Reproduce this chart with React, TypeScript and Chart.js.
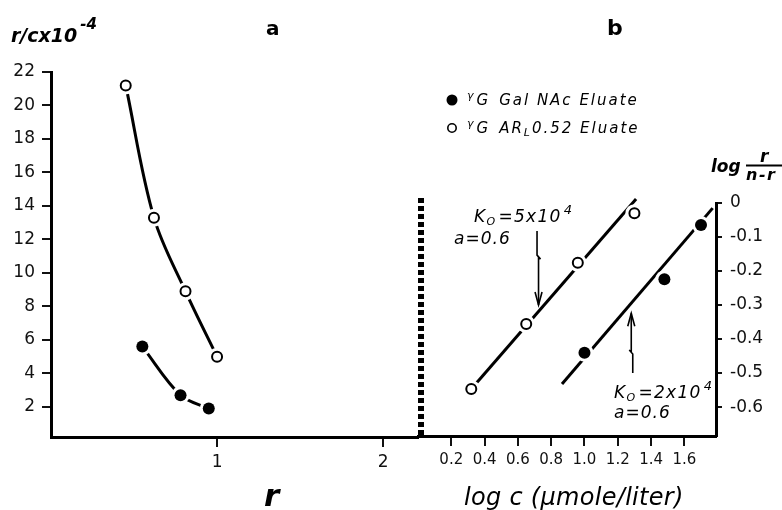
import React, { useEffect, useRef } from "react";
import { Chart, registerables } from "chart.js";
Chart.register(...registerables);

// ---------- Panel a data ----------
const leftOpenR = [0.45, 0.62, 0.81, 1.0];
const leftOpenVal = [21.2, 13.3, 8.9, 5.0];
const leftFilledR = [0.55, 0.78, 0.95];
const leftFilledVal = [5.6, 2.7, 1.9];
const leftYTicks = [2, 4, 6, 8, 10, 12, 14, 16, 18, 20, 22];
const leftXTicks = [1, 2];

// ---------- Panel b data ----------
const rightOpenLogC = [0.32, 0.65, 0.96, 1.3];
const rightOpenVal = [-0.547, -0.356, -0.176, -0.03];
const rightFilledLogC = [1.0, 1.48, 1.7];
const rightFilledVal = [-0.44, -0.224, -0.065];
const openFitLogC = [0.32, 1.31];
const openFitVal = [-0.547, 0.012];
const filledFitLogC = [0.865, 1.77];
const filledFitVal = [-0.532, -0.015];
const rightXTicks = [0.2, 0.4, 0.6, 0.8, 1.0, 1.2, 1.4, 1.6];
const rightYTicks = [0, -0.1, -0.2, -0.3, -0.4, -0.5, -0.6];

// annotation arrows (data coords of panel b): x, from y, tip y, zig y
const arrowDown = [0.715, -0.082, -0.3, -0.165];
const arrowUp = [1.29, -0.5, -0.324, -0.432];

const FONT = '"DejaVu Sans"';
const LEFT_W = 420;
const RIGHT_X = 410;
const RIGHT_W = 782 - RIGHT_X;
const H = 510;

const pts = (xs: number[], ys: number[]) => xs.map((x, i) => ({ x, y: ys[i] }));

type Part = { t: string; size: number; dy?: number; bold?: boolean; italic?: boolean; gap?: number };
function rich(ctx: CanvasRenderingContext2D, x: number, y: number, parts: Part[], spacing = 0) {
  let cx = x;
  for (const p of parts) {
    const it = p.italic === false ? "" : "italic ";
    ctx.font = `${it}${p.bold ? "bold " : ""}${p.size}px ${FONT}`;
    (ctx as any).letterSpacing = spacing + "px";
    ctx.fillText(p.t, cx, y + (p.dy || 0));
    cx += ctx.measureText(p.t).width + (p.gap || 0);
  }
  (ctx as any).letterSpacing = "0px";
}

function markerSets(openPts: any[], filledPts: any[]) {
  return [
    { data: openPts, pointRadius: 5, pointBackgroundColor: "#fff", pointBorderColor: "#000", pointBorderWidth: 2, showLine: false, order: 0, clip: false as any },
    { data: filledPts, pointRadius: 6, pointBackgroundColor: "#000", pointBorderColor: "#000", pointBorderWidth: 0, showLine: false, order: 0, clip: false as any },
    { data: openPts, pointRadius: 9, pointBackgroundColor: "#fff", pointBorderWidth: 0, showLine: false, order: 1, clip: false as any },
    { data: filledPts, pointRadius: 9, pointBackgroundColor: "#fff", pointBorderWidth: 0, showLine: false, order: 1, clip: false as any },
  ];
}

function lineSet(data: any[], smooth: boolean) {
  return {
    data,
    showLine: true,
    pointRadius: 0,
    borderColor: "#000",
    borderWidth: 3,
    tension: smooth ? 0.35 : 0,
    order: 2,
    clip: false as any,
  };
}

const leftTextPlugin = {
  id: "leftText",
  afterDraw(chart: any) {
    const ctx: CanvasRenderingContext2D = chart.ctx;
    ctx.save();
    ctx.fillStyle = "#000";
    ctx.textBaseline = "alphabetic";
    rich(ctx, 11, 42, [
      { t: "r/cx10", size: 19, bold: true, gap: 3 },
      { t: "-4", size: 15, bold: true, dy: -13 },
    ]);
    rich(ctx, 266, 35, [{ t: "a", size: 20, bold: true, italic: false }]);
    rich(ctx, 264, 506, [{ t: "r", size: 31, bold: true }]);
    ctx.restore();
  },
};

function drawArrow(ctx: CanvasRenderingContext2D, xs: any, ys: any, a: number[]) {
  const x = xs.getPixelForValue(a[0]);
  const y0 = ys.getPixelForValue(a[1]);
  const yt = ys.getPixelForValue(a[2]);
  const zy = ys.getPixelForValue(a[3]);
  const dir = yt > y0 ? 1 : -1; // 1 = pointing down
  ctx.beginPath();
  ctx.moveTo(x, y0);
  ctx.lineTo(x, zy - 4 * dir);
  ctx.lineTo(x + 3.5 * dir, zy);
  ctx.lineTo(x + 1.5 * dir, zy - 2 * dir);
  ctx.lineTo(x + 1.5 * dir, yt);
  ctx.stroke();
  const tx = x + 1.5 * dir;
  ctx.beginPath();
  ctx.moveTo(tx - 3.5, yt - 13 * dir);
  ctx.lineTo(tx, yt);
  ctx.lineTo(tx + 3.5, yt - 13 * dir);
  ctx.stroke();
}

const rightTextPlugin = {
  id: "rightText",
  afterDraw(chart: any) {
    const ctx: CanvasRenderingContext2D = chart.ctx;
    const ox = -RIGHT_X;
    const area = chart.chartArea;
    ctx.save();
    ctx.fillStyle = "#000";
    ctx.strokeStyle = "#000";
    ctx.textBaseline = "alphabetic";

    // dashed panel separator
    ctx.save();
    ctx.lineWidth = 6;
    ctx.setLineDash([5, 3]);
    ctx.beginPath();
    ctx.moveTo(area.left + 3, area.top - 5);
    ctx.lineTo(area.left + 3, area.bottom);
    ctx.stroke();
    ctx.restore();

    // panel letter
    rich(ctx, 607 + ox, 35, [{ t: "b", size: 22, bold: true, italic: false }]);

    // legend
    ctx.beginPath();
    ctx.arc(452 + ox, 100, 5.5, 0, Math.PI * 2);
    ctx.fill();
    ctx.beginPath();
    ctx.lineWidth = 1.6;
    ctx.arc(452 + ox, 128, 4.2, 0, Math.PI * 2);
    ctx.stroke();
    rich(ctx, 467 + ox, 105, [
      { t: "γ", size: 11, dy: -6, gap: 1 },
      { t: "G", size: 15, gap: 9 },
      { t: "Gal NAc Eluate", size: 15 },
    ], 2);
    rich(ctx, 467 + ox, 133, [
      { t: "γ", size: 11, dy: -6, gap: 1 },
      { t: "G", size: 15, gap: 9 },
      { t: "AR", size: 15 },
      { t: "L", size: 11, dy: 3 },
      { t: "0.52 Eluate", size: 15 },
    ], 2);

    // right axis title: log r/(n-r)
    rich(ctx, 711 + ox, 172, [{ t: "log", size: 17, bold: true }]);
    rich(ctx, 760 + ox, 162, [{ t: "r", size: 17, bold: true }]);
    ctx.lineWidth = 2;
    ctx.beginPath();
    ctx.moveTo(746 + ox, 165.5);
    ctx.lineTo(782 + ox, 165.5);
    ctx.stroke();
    rich(ctx, 746 + ox, 180, [{ t: "n-r", size: 16, bold: true }], 1.5);

    // annotations
    rich(ctx, 474 + ox, 222, [
      { t: "K", size: 17 },
      { t: "O", size: 11, dy: 3, gap: 2 },
      { t: "=5x10", size: 17, gap: 2 },
      { t: "4", size: 13, dy: -8 },
    ], 1.3);
    rich(ctx, 454 + ox, 244, [{ t: "a=0.6", size: 17 }], 1);
    rich(ctx, 614 + ox, 398, [
      { t: "K", size: 17 },
      { t: "O", size: 11, dy: 3, gap: 2 },
      { t: "=2x10", size: 17, gap: 2 },
      { t: "4", size: 13, dy: -8 },
    ], 1.3);
    rich(ctx, 614 + ox, 418, [{ t: "a=0.6", size: 17 }], 1);

    // arrows
    ctx.lineWidth = 1.6;
    drawArrow(ctx, chart.scales.x, chart.scales.y, arrowDown);
    drawArrow(ctx, chart.scales.x, chart.scales.y, arrowUp);

    // x-axis title
    rich(ctx, 464 + ox, 505, [{ t: "log c (μmole/liter)", size: 24 }], 0.3);
    ctx.restore();
  },
};

const axisCommon = {
  grid: { display: true, drawOnChartArea: false, color: "#111", lineWidth: 2 },
  border: { display: true, color: "#000", width: 3 },
};

const noPadX = (s: any, h: number) => { s.height = h; s.paddingLeft = 0; s.paddingRight = 0; s.paddingTop = 0; s.paddingBottom = 0; };
const noPadY = (s: any, w: number) => { s.width = w; s.paddingLeft = 0; s.paddingRight = 0; s.paddingTop = 0; s.paddingBottom = 0; };

export default function App() {
  const leftRef = useRef<HTMLCanvasElement>(null);
  const rightRef = useRef<HTMLCanvasElement>(null);

  useEffect(() => {
    const leftChart = new Chart(leftRef.current as HTMLCanvasElement, {
      type: "scatter",
      data: {
        datasets: [
          ...markerSets(pts(leftOpenR, leftOpenVal), pts(leftFilledR, leftFilledVal)),
          lineSet(pts(leftOpenR, leftOpenVal), true),
          lineSet(pts(leftFilledR, leftFilledVal), true),
        ] as any,
      },
      options: {
        responsive: false,
        animation: false,
        devicePixelRatio: 1,
        events: [],
        layout: { autoPadding: false, padding: { top: 72, left: 0, right: 2, bottom: 0 } },
        plugins: { legend: { display: false }, tooltip: { enabled: false } },
        scales: {
          x: {
            type: "linear",
            min: 0,
            max: 2.21,
            ...axisCommon,
            grid: { ...axisCommon.grid, tickLength: 10 },
            ticks: { color: "#111", font: { family: FONT, size: 17 }, padding: 5, autoSkip: false, maxRotation: 0, callback: (v: any) => String(v) },
            afterBuildTicks: (s: any) => { s.ticks = leftXTicks.map((value) => ({ value })); },
            afterFit: (s: any) => noPadX(s, H - 437),
          },
          y: {
            type: "linear",
            min: 0.2,
            max: 22,
            ...axisCommon,
            grid: { ...axisCommon.grid, tickLength: 9 },
            ticks: { color: "#111", font: { family: FONT, size: 17 }, padding: 7, autoSkip: false, callback: (v: any) => String(v) },
            afterBuildTicks: (s: any) => { s.ticks = leftYTicks.map((value) => ({ value })); },
            afterFit: (s: any) => noPadY(s, 51),
          },
        },
      } as any,
      plugins: [leftTextPlugin],
    });

    const rightChart = new Chart(rightRef.current as HTMLCanvasElement, {
      type: "scatter",
      data: {
        datasets: [
          ...markerSets(pts(rightOpenLogC, rightOpenVal), pts(rightFilledLogC, rightFilledVal)),
          lineSet(pts(openFitLogC, openFitVal), false),
          lineSet(pts(filledFitLogC, filledFitVal), false),
        ] as any,
      },
      options: {
        responsive: false,
        animation: false,
        devicePixelRatio: 1,
        events: [],
        layout: { autoPadding: false, padding: { top: 203, left: 8, right: 0, bottom: 0 } },
        plugins: { legend: { display: false }, tooltip: { enabled: false } },
        scales: {
          x: {
            type: "linear",
            min: 0,
            max: 1.79,
            ...axisCommon,
            grid: { ...axisCommon.grid, tickLength: 10 },
            ticks: { color: "#111", font: { family: FONT, size: 15 }, padding: 5, autoSkip: false, maxRotation: 0, callback: (v: any) => Number(v).toFixed(1) },
            afterBuildTicks: (s: any) => { s.ticks = rightXTicks.map((value) => ({ value })); },
            afterFit: (s: any) => noPadX(s, H - 436),
          },
          y: {
            type: "linear",
            position: "right",
            min: -0.685,
            max: 0,
            ...axisCommon,
            grid: { ...axisCommon.grid, tickLength: 6 },
            ticks: { color: "#111", font: { family: FONT, size: 17 }, padding: 8, autoSkip: false, callback: (v: any) => (Number(v) === 0 ? "0" : Number(v).toFixed(1)) },
            afterBuildTicks: (s: any) => { s.ticks = rightYTicks.map((value) => ({ value })); },
            afterFit: (s: any) => noPadY(s, RIGHT_W - 8 - (716 - 418)),
          },
        },
      } as any,
      plugins: [rightTextPlugin],
    });

    return () => {
      leftChart.destroy();
      rightChart.destroy();
    };
  }, []);

  return (
    <div style={{ position: "fixed", left: 0, top: 0, width: 782, height: H, background: "#fff", overflow: "hidden" }}>
      <canvas ref={leftRef} width={LEFT_W} height={H} style={{ position: "absolute", left: 0, top: 0, width: LEFT_W, height: H }} />
      <canvas ref={rightRef} width={RIGHT_W} height={H} style={{ position: "absolute", left: RIGHT_X, top: 0, width: RIGHT_W, height: H }} />
    </div>
  );
}
